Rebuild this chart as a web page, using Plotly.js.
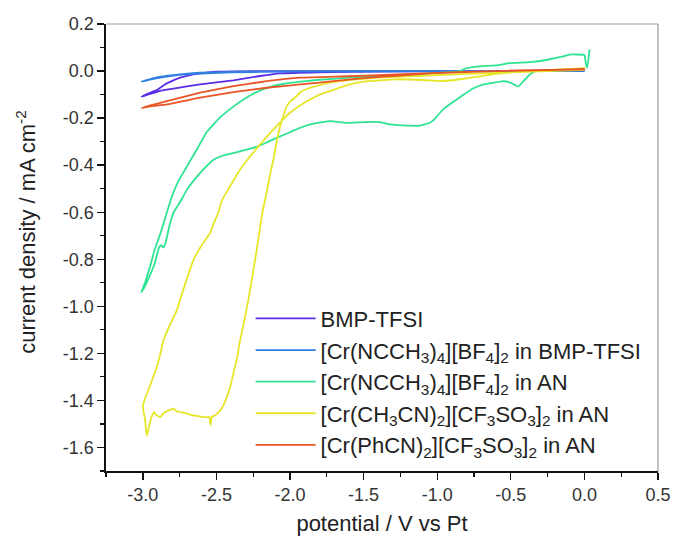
<!DOCTYPE html>
<html>
<head>
<meta charset="utf-8">
<script src="https://cdn.plot.ly/plotly-3.0.1.min.js"></script>
<style>html,body{margin:0;padding:0;background:#fff;}#chart{width:675px;height:536px;}</style>
</head>
<body>
<div id="chart"></div>
<script>
// Series names
const seriesNames = [
  "BMP-TFSI",
  "[Cr(NCCH<sub>3</sub>)<sub>4</sub>][BF<sub>4</sub>]<sub>2</sub> in BMP-TFSI",
  "[Cr(NCCH<sub>3</sub>)<sub>4</sub>][BF<sub>4</sub>]<sub>2</sub> in AN",
  "[Cr(CH<sub>3</sub>CN)<sub>2</sub>][CF<sub>3</sub>SO<sub>3</sub>]<sub>2</sub> in AN",
  "[Cr(PhCN)<sub>2</sub>][CF<sub>3</sub>SO<sub>3</sub>]<sub>2</sub> in AN"
];
const seriesColors = ["#5a2ee6", "#2f7fe0", "#2ee391", "#e6e628", "#ea5526"];
const xTitle = "potential / V vs Pt";
const yTitle = "current density / mA cm<sup>-2</sup>";

// BMP-TFSI (potential V, current mA cm^-2)
const bmpX = [0.0, -1.0, -2.0, -2.385, -2.497, -2.61, -2.70, -2.747, -2.80, -2.85, -2.905, -2.96, -3.007, -2.95, -2.86, -2.75, -2.61, -2.5, -2.385, -2.203, -2.067, -1.8, -1.4, -0.8, 0.0];
const bmpY = [0.0, 0.0, 0.0, -0.001, -0.003, -0.01, -0.02, -0.028, -0.042, -0.057, -0.081, -0.095, -0.109, -0.097, -0.081, -0.07, -0.057, -0.048, -0.040, -0.021, -0.01, -0.005, -0.002, 0.0, 0.0];

// [Cr(NCCH3)4][BF4]2 in BMP-TFSI
const crBmpX = [0.0, -1.0, -2.0, -2.4, -2.61, -2.747, -2.88, -2.95, -3.007, -2.92, -2.8, -2.65, -2.4, -2.0, -1.0, 0.0];
const crBmpY = [0.0, 0.0, -0.001, -0.004, -0.007, -0.014, -0.024, -0.034, -0.045, -0.032, -0.02, -0.012, -0.006, -0.002, 0.0, 0.0];

// [Cr(NCCH3)4][BF4]2 in AN
const crAnX = [0.0, -0.2, -0.33, -0.37, -0.41, -0.45, -0.5, -0.55, -0.62, -0.69, -0.76, -0.82, -0.9, -0.96, -1.02, -1.05, -1.12, -1.2, -1.32, -1.39, -1.5, -1.62, -1.728, -1.85, -1.93, -2.0, -2.09, -2.181, -2.25, -2.38, -2.46, -2.52, -2.56, -2.61, -2.66, -2.70, -2.75, -2.79, -2.82, -2.845, -2.86, -2.875, -2.89, -2.92, -2.96, -2.99, -3.01,
  -2.98, -2.95, -2.92, -2.88, -2.81, -2.76, -2.70, -2.63, -2.57, -2.48, -2.38, -2.3, -2.23, -2.14, -2.05, -1.93, -1.82, -1.6, -1.3, -1.0, -0.85, -0.8, -0.72, -0.6, -0.51, -0.37, -0.25, -0.145, -0.10, 0.0, 0.01, 0.02, 0.035];
const crAnY = [0.01, 0.005, 0.0, -0.014, -0.04, -0.066, -0.05, -0.043, -0.05, -0.058, -0.075, -0.10, -0.135, -0.163, -0.205, -0.22, -0.232, -0.232, -0.227, -0.217, -0.217, -0.22, -0.213, -0.225, -0.241, -0.26, -0.284, -0.31, -0.327, -0.348, -0.36, -0.377, -0.40, -0.433, -0.47, -0.504, -0.56, -0.60, -0.66, -0.73, -0.75, -0.74, -0.75, -0.82, -0.88, -0.92, -0.94,
  -0.89, -0.83, -0.76, -0.69, -0.548, -0.47, -0.405, -0.33, -0.263, -0.20, -0.149, -0.115, -0.09, -0.068, -0.055, -0.045, -0.038, -0.028, -0.018, -0.008, 0.0, 0.012, 0.02, 0.024, 0.034, 0.038, 0.048, 0.062, 0.07, 0.068, 0.03, 0.015, 0.092];

// [Cr(CH3CN)2][CF3SO3]2 in AN
const crMeX = [0.0, -0.4, -0.8, -1.1, -1.4, -1.6, -1.728, -1.864, -1.93, -1.955, -1.99, -2.022, -2.045, -2.067, -2.09, -2.113, -2.135, -2.16, -2.181, -2.20, -2.226, -2.255, -2.283, -2.31, -2.339, -2.36, -2.385, -2.405, -2.429, -2.46, -2.497, -2.52, -2.531, -2.54, -2.548, -2.58, -2.633, -2.68, -2.724, -2.77, -2.79, -2.815, -2.84, -2.86, -2.88, -2.905, -2.923, -2.94, -2.95, -2.965, -2.973, -2.985, -2.996, -3.0,
  -2.99, -2.962, -2.935, -2.905, -2.88, -2.86, -2.82, -2.769, -2.72, -2.656, -2.6, -2.543, -2.52, -2.486, -2.463, -2.407, -2.34, -2.271, -2.2, -2.135, -2.07, -2.0, -1.93, -1.864, -1.80, -1.728, -1.6, -1.5, -1.275, -1.1, -0.98, -0.88, -0.77, -0.6, -0.37, 0.005];
const crMeY = [0.005, -0.003, -0.012, -0.02, -0.028, -0.038, -0.049, -0.071, -0.09, -0.107, -0.125, -0.149, -0.19, -0.235, -0.30, -0.377, -0.44, -0.52, -0.58, -0.65, -0.76, -0.87, -0.973, -1.06, -1.144, -1.22, -1.286, -1.34, -1.386, -1.43, -1.457, -1.467, -1.468, -1.505, -1.47, -1.472, -1.466, -1.46, -1.452, -1.447, -1.435, -1.44, -1.447, -1.455, -1.47, -1.464, -1.45, -1.47, -1.49, -1.53, -1.55, -1.48, -1.443, -1.43,
  -1.40, -1.357, -1.31, -1.258, -1.20, -1.144, -1.085, -1.017, -0.92, -0.803, -0.74, -0.689, -0.65, -0.60, -0.55, -0.49, -0.42, -0.362, -0.31, -0.263, -0.22, -0.177, -0.145, -0.121, -0.10, -0.085, -0.058, -0.045, -0.035, -0.038, -0.043, -0.038, -0.028, -0.012, 0.0, 0.012];

// [Cr(PhCN)2][CF3SO3]2 in AN
const crPhX = [0.0, -0.37, -0.82, -1.275, -1.6, -1.93, -2.158, -2.385, -2.61, -2.837, -2.95, -3.007, -2.95, -2.837, -2.61, -2.385, -2.158, -1.93, -1.705, -1.5, -1.275, -1.05, -0.6, 0.005];
const crPhY = [0.007, 0.004, -0.004, -0.014, -0.022, -0.028, -0.043, -0.064, -0.092, -0.128, -0.146, -0.157, -0.15, -0.142, -0.113, -0.09, -0.071, -0.057, -0.043, -0.03, -0.02, -0.01, 0.0, 0.007];

// Axis ticks
const xTickVals = [-3.0, -2.5, -2.0, -1.5, -1.0, -0.5, 0.0, 0.5];
const xTickText = ["-3.0", "-2.5", "-2.0", "-1.5", "-1.0", "-0.5", "0.0", "0.5"];
const yTickVals = [0.2, 0.0, -0.2, -0.4, -0.6, -0.8, -1.0, -1.2, -1.4, -1.6];
const yTickText = ["0.2", "0.0", "-0.2", "-0.4", "-0.6", "-0.8", "-1.0", "-1.2", "-1.4", "-1.6"];

const xs = [bmpX, crBmpX, crAnX, crMeX, crPhX];
const ys = [bmpY, crBmpY, crAnY, crMeY, crPhY];

const traces = xs.map((x, i) => ({
  type: "scatter", mode: "lines", x: x, y: ys[i], name: seriesNames[i],
  line: {color: seriesColors[i], width: 1.8, shape: "spline", smoothing: 0.3}
}));

const font = "Liberation Sans, Arial, sans-serif";
const layout = {
  width: 675, height: 536,
  margin: {l: 106, r: 17, t: 24, b: 65},
  paper_bgcolor: "#fff", plot_bgcolor: "#fff",
  font: {family: font, color: "#222"},
  showlegend: true,
  legend: {
    x: 0.262, xanchor: "left", y: 0.012, yanchor: "bottom",
    bgcolor: "rgba(0,0,0,0)", font: {size: 22, family: font, color: "#222"},
    itemwidth: 60, tracegroupgap: 0
  },
  xaxis: {
    range: [-3.25, 0.5], tickmode: "array", tickvals: xTickVals, ticktext: xTickText,
    showline: true, linecolor: "#111", linewidth: 1.6, ticks: "outside", ticklen: 7, tickwidth: 1.4, tickcolor: "#111",
    minor: {tickmode: "linear", tick0: 0, dtick: 0.25, ticks: "outside", ticklen: 4, tickwidth: 1.2, tickcolor: "#111", showgrid: false},
    showgrid: false, zeroline: false, mirror: false,
    tickfont: {size: 18, color: "#333", family: font},
    title: {text: xTitle, font: {size: 22, color: "#222", family: font}, standoff: 23}
  },
  yaxis: {
    range: [-1.7, 0.2], tickmode: "array", tickvals: yTickVals, ticktext: yTickText,
    showline: true, linecolor: "#111", linewidth: 1.6, ticks: "outside", ticklen: 7, tickwidth: 1.4, tickcolor: "#111",
    minor: {tickmode: "linear", tick0: 0, dtick: 0.1, ticks: "outside", ticklen: 4, tickwidth: 1.2, tickcolor: "#111", showgrid: false},
    showgrid: false, zeroline: false, mirror: false,
    tickfont: {size: 18, color: "#333", family: font}
  },
  annotations: [
    {text: yTitle, xref: "paper", yref: "paper", x: -0.145, y: 0.535, xanchor: "center", yanchor: "middle",
     textangle: -90, showarrow: false, font: {size: 22, color: "#222", family: font}}
  ],
  shapes: [
    {type: "line", xref: "paper", yref: "paper", x0: 0, x1: 1, y0: 1, y1: 1, line: {color: "#999", width: 1.2}},
    {type: "line", xref: "paper", yref: "paper", x0: 1, x1: 1, y0: 0, y1: 1, line: {color: "#999", width: 1.2}}
  ]
};

Plotly.newPlot("chart", traces, layout, {displayModeBar: false, staticPlot: true});
</script>
</body>
</html>
